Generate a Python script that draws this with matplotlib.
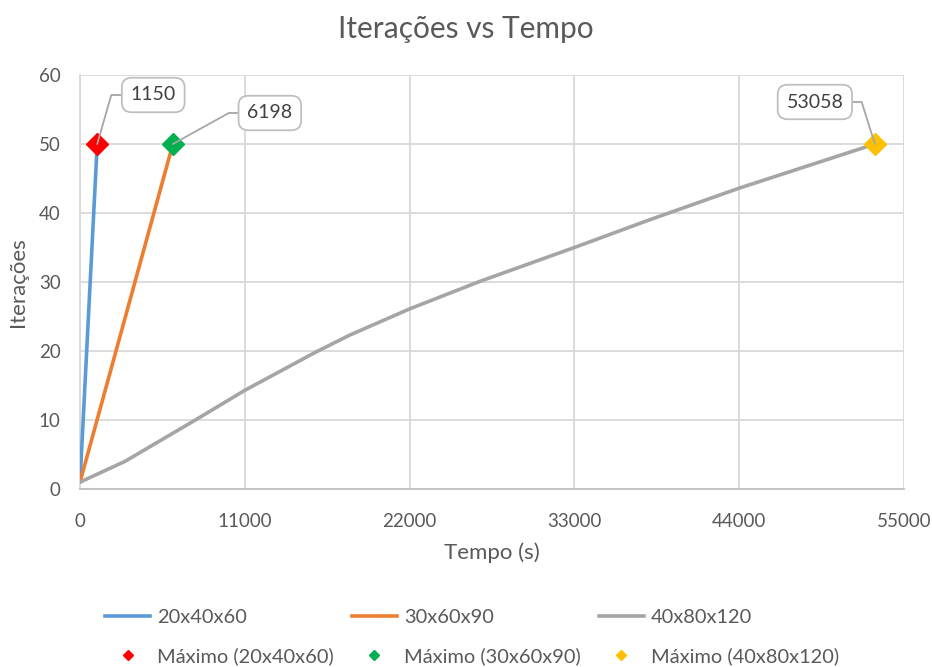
import matplotlib
matplotlib.use("Agg")
import matplotlib.pyplot as plt
from matplotlib.lines import Line2D

plt.rcParams['font.family'] = ['Lato', 'DejaVu Sans']

# Series data: elapsed time (s) vs. iteration count
series_names = ["20x40x60", "30x60x90", "40x80x120"]
tempo_20 = [0, 1150]
iter_20 = [1, 50]
tempo_30 = [0, 6198]
iter_30 = [1, 50]
tempo_40 = [0, 3000, 7700, 11000, 15700, 18000, 22000, 26700, 33000, 38000, 44000, 53058]
iter_40 = [1, 4, 10, 14.3, 19.8, 22.3, 26.1, 30.1, 35, 39, 43.6, 50]

# Maximum points (final iteration) for each mesh
max_tempo = [1150, 6198, 53058]
max_iter = [50, 50, 50]
max_names = ["Máximo (20x40x60)", "Máximo (30x60x90)", "Máximo (40x80x120)"]

x_ticks = [0, 11000, 22000, 33000, 44000, 55000]
y_ticks = [0, 10, 20, 30, 40, 50, 60]

line_colors = ["#5B9BD5", "#ED7D31", "#A5A5A5"]
marker_colors = ["#FF0000", "#00B050", "#FFC000"]
text_color = "#595959"
grid_color = "#D9D9D9"

fig = plt.figure(figsize=(9.32, 6.67), dpi=100)
ax = fig.add_axes([80 / 932, 1 - 489 / 667, 824 / 932, 414 / 667])

series = [(tempo_20, iter_20), (tempo_30, iter_30), (tempo_40, iter_40)]
for (t, it), c in zip(series, line_colors):
    ax.plot(t, it, color=c, lw=2.6, solid_capstyle='round', solid_joinstyle='round', zorder=3)

for t, it, c in zip(max_tempo, max_iter, marker_colors):
    ax.plot([t], [it], marker='D', ms=11, color=c, mec=c, mew=1, ls='none', zorder=4)

# Data labels with elbow leader lines: (offset px, leader angle at the point)
label_layout = [((56, 49), 74), ((97, 31), 29), ((-60, 42), 107.5)]
for t, it, (off, angB) in zip(max_tempo, max_iter, label_layout):
    ax.annotate(str(t), xy=(t, it), xytext=off, textcoords='offset pixels',
                ha='center', va='center', fontsize=14, color="#404040",
                bbox=dict(boxstyle='round,pad=0.45,rounding_size=0.5', fc='white',
                          ec='#BFBFBF', lw=1.3),
                arrowprops=dict(arrowstyle='-', color='#A6A6A6', lw=1.3,
                                shrinkA=0, shrinkB=0,
                                connectionstyle=f'angle,angleA=0,angleB={angB},rad=0'),
                zorder=6)

ax.set_xlim(0, 55000)
ax.set_ylim(0, 60)
ax.set_xticks(x_ticks)
ax.set_yticks(y_ticks)
ax.grid(True, color=grid_color, lw=1.3)
ax.set_axisbelow(True)
for side in ['top', 'right']:
    ax.spines[side].set_visible(False)
ax.spines['left'].set_color(grid_color)
ax.spines['left'].set_linewidth(1.3)
ax.spines['bottom'].set_color('#BFBFBF')
ax.spines['bottom'].set_linewidth(1.3)
ax.tick_params(axis='both', length=0, labelsize=13.5, labelcolor=text_color)
ax.tick_params(axis='x', pad=17)
ax.tick_params(axis='y', pad=14)

ax.set_xlabel("Tempo (s)", fontsize=16, color=text_color, labelpad=9)
ax.set_ylabel("Iterações", fontsize=16, color=text_color, labelpad=8)
fig.text(466 / 932, 1 - 29 / 667, "Iterações vs Tempo", ha='center', va='center',
         fontsize=21.5, color=text_color)

# Legend: lines in the first row, maximum markers in the second
handles, labels = [], []
for name, lc, mname, mc in zip(series_names, line_colors, max_names, marker_colors):
    handles.append(Line2D([], [], color=lc, lw=2.6))
    labels.append(name)
    handles.append(Line2D([], [], marker='D', ms=5.5, color=mc, ls='none'))
    labels.append(mname)
leg = fig.legend(handles, labels, ncol=3, loc='center',
                 bbox_to_anchor=(472 / 932, 1 - 637 / 667), frameon=False,
                 fontsize=14.4, handlelength=2.25, handletextpad=0.35,
                 columnspacing=0.9, labelspacing=1.08)
for txt in leg.get_texts():
    txt.set_color(text_color)

fig.savefig("out.png", dpi=100)
